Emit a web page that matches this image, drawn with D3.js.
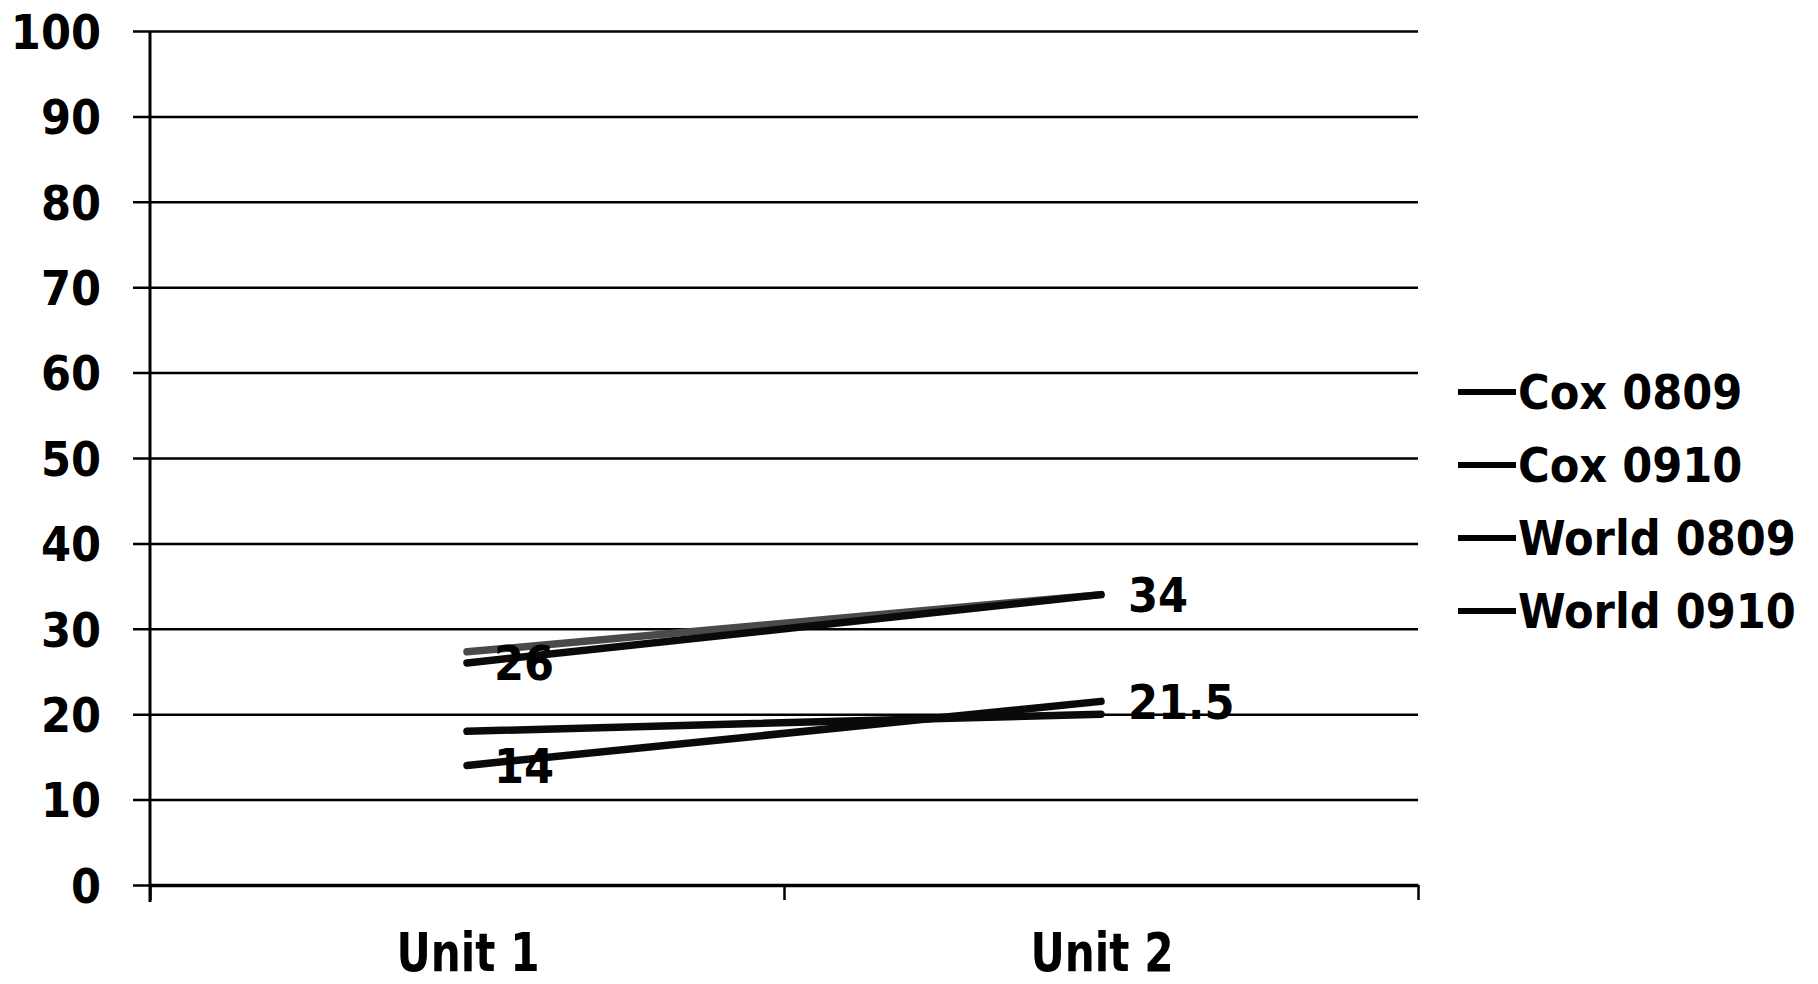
<!DOCTYPE html>
<html>
<head>
<meta charset="utf-8">
<script src="https://cdn.jsdelivr.net/npm/d3@7"></script>
<style>
  html, body { margin: 0; padding: 0; background: #fff; }
  svg { display: block; }
  .lbl { font-family: "DejaVu Sans Condensed", "DejaVu Sans", sans-serif; font-stretch: condensed; font-weight: bold; fill: #000; }
</style>
</head>
<body>
<svg id="chart" width="1818" height="984"></svg>
<script>
// Units on the x axis
const categories = ["Unit 1", "Unit 2"];
// Series names, in legend order
const seriesNames = ["Cox 0809", "Cox 0910", "World 0809", "World 0910"];
// Values per unit for each series
const cox0809 = [26, 34];
const cox0910 = [14, 21.5];
const world0809 = [27.3, 34];
const world0910 = [18, 20];
// Which series carry value labels
const labelled = [true, true, false, false];
// Y axis tick values
const yTicks = [0, 10, 20, 30, 40, 50, 60, 70, 80, 90, 100];

const seriesValues = [cox0809, cox0910, world0809, world0910];
const seriesColors = ["#0a0a0a", "#0a0a0a", "#4a4a4a", "#0a0a0a"];

const svg = d3.select("#chart");
const plotLeft = 150, plotRight = 1418, plotTop = 31, plotBottom = 885;

const x = d3.scaleBand().domain(categories).range([plotLeft, plotRight]).padding(0);
const xEdge = d3.scaleLinear().domain([0, categories.length]).range([plotLeft, plotRight]);
const y = d3.scaleLinear().domain([0, 100]).range([plotBottom, plotTop]);

// Gridlines with outside ticks and labels
const yAxis = svg.append("g")
  .attr("transform", `translate(${plotRight},0)`)
  .call(d3.axisLeft(y).tickValues(yTicks).tickSize(plotRight - 133).tickPadding(32));
yAxis.select(".domain").remove();
yAxis.selectAll(".tick line").attr("stroke", "#000").attr("stroke-width", 2.5);
yAxis.selectAll(".tick text").attr("class", "lbl").attr("font-size", 48)
  .attr("dy", "0.36em");
yAxis.attr("font-family", null).attr("font-size", null);

// Vertical axis line
svg.append("line")
  .attr("x1", plotLeft).attr("x2", plotLeft)
  .attr("y1", plotTop).attr("y2", plotBottom + 17)
  .attr("stroke", "#000").attr("stroke-width", 3);

// Horizontal axis with boundary ticks
const xAxis = svg.append("g")
  .attr("transform", `translate(0,${plotBottom})`)
  .call(d3.axisBottom(xEdge).tickValues(d3.range(categories.length + 1)).tickFormat("").tickSize(15).tickSizeOuter(0));
xAxis.select(".domain").attr("stroke", "#000").attr("stroke-width", 3.5);
xAxis.selectAll(".tick line").attr("stroke", "#000").attr("stroke-width", 2.5);

// Category labels, narrow bold
svg.append("g").selectAll("text")
  .data(categories)
  .join("text")
  .attr("class", "lbl")
  .attr("font-size", 51)
  .attr("text-anchor", "middle")
  .attr("transform", d => `translate(${x(d) + x.bandwidth() / 2 + 1},971) scale(0.92,1.06)`)
  .text(d => d);

// Series lines
const line = d3.line()
  .x((d, i) => x(categories[i]) + x.bandwidth() / 2)
  .y(d => y(d));

const order = [3, 2, 1, 0];
svg.append("g").selectAll("path")
  .data(order)
  .join("path")
  .attr("d", k => line(seriesValues[k]))
  .attr("fill", "none")
  .attr("stroke", k => seriesColors[k])
  .attr("stroke-width", 7.5)
  .attr("stroke-linecap", "round");

// Value labels to the right of each point
seriesValues.forEach((vals, k) => {
  if (!labelled[k]) return;
  svg.append("g").selectAll("text")
    .data(vals)
    .join("text")
    .attr("class", "lbl")
    .attr("font-size", 48)
    .attr("x", (d, i) => x(categories[i]) + x.bandwidth() / 2 + 27)
    .attr("y", d => y(d))
    .attr("dy", "0.36em")
    .text(d => d);
});

// Legend
const legend = svg.append("g");
seriesNames.forEach((name, k) => {
  const ly = 392 + k * 73;
  legend.append("line")
    .attr("x1", 1458).attr("x2", 1516)
    .attr("y1", ly).attr("y2", ly)
    .attr("stroke", "#000").attr("stroke-width", 6);
  legend.append("text")
    .attr("class", "lbl")
    .attr("font-size", 48)
    .attr("x", 1518).attr("y", ly)
    .attr("dy", "0.36em")
    .text(name);
});
</script>
</body>
</html>
